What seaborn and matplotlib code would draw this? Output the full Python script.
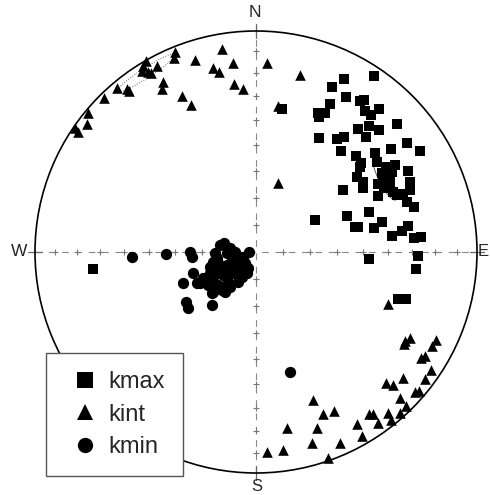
"""
AMS principal axes on an equal-area (lower hemisphere) net
"""

import numpy as np
import pandas as pd
import matplotlib
matplotlib.use('Agg')
import matplotlib.pyplot as plt
from matplotlib.lines import Line2D
from matplotlib.patches import Circle, Ellipse
import seaborn as sns

# projected coordinates on the net (east, north), net radius = 221
R = 221

kmax_e = [118, 88, 76, 90, 104, 108, 74, 62, 69, 63, 109, 123, 115, 26, 141, 102, 113, 123,
          63, 81, 88, 110, 151, 135, 164, 85, 100, 105, 104, 119, 121, 131, 139, 126, 132,
          127, 134, 152, 154, 154, 101, 107, 107, 122, 122, 141, 147, 151, 158, 87, 113,
          91, 59, 126, 99, 102, 118, 136, 146, 152, 158, 165, 113, 162, 160, 142, 150,
          -163, 130, 136, 128, 137]
kmax_n = [176, 173, 165, 155, 151, 152, 148, 139, 139, 135, 141, 143, 137, 143, 128, 123, 126, 122,
          114, 113, 115, 115, 109, 103, 101, 101, 96, 89, 85, 99, 90, 85, 87, 79, 75,
          70, 70, 81, 70, 62, 75, 70, 64, 68, 56, 57, 58, 50, 45, 62, 40,
          36, 32, 30, 25, 25, 24, 16, 21, 26, 14, 15, -7, -4, -17, -47, -47,
          -17, 80, 80, 64, 60]

kint_e = [-181, -178, -169, -168, -152, -139, -129, -127, -114, -113, -110, -108, -105, -99,
          -93, -94, -81, -82, -74, -65, -61, -43, -37, -34, -23, -22, -13, 11, 44, 22, 22,
          132, 149, 154, 148, 180, 176, 169, 165, 175, 169, 147, 130, 137, 159, 163, 144,
          150, 113, 117, 132, 122, 135, 144, 101, 106, 84, 72, 57, 67, 78, 61, 56, 31, 27, 11]
kint_n = [124, 120, 128, 139, 154, 164, 163, 161, 181, 186, 191, 180, 179, 186,
          170, 163, 200, 194, 156, 147, 192, 184, 180, 203, 189, 168, 163, 189, 177, 146, 69,
          -52, -89, -86, -92, -88, -94, -104, -106, -118, -127, -126, -131, -133, -140, -139, -146,
          -154, -162, -162, -161, -171, -168, -161, -172, -184, -191, -206, -148, -162, -159,
          -176, -191, -176, -198, -200]

kmin_e = [-124, -90, -66, -64, -36, -32, -26, -21, -7, -43, -63, -73, -56, -70, -68, -44, -44, 34,
          -41, -29, -13, -46, -38, -29, -19, -11, -8, -53, -43, -33, -23, -14, -9, -59, -48,
          -38, -28, -18, -43, -34, -26, -36, -26, -39, -24, -16, -46, -31]
kmin_n = [-5, -2, 0, -5, 7, 9, 4, 0, 0, -10, -21, -31, -31, -50, -56, -53, -41, -120,
          -1, -1, -5, -15, -11, -13, -10, -11, -16, -26, -25, -23, -21, -25, -21, -31, -33,
          -33, -30, -30, -40, -38, -35, -18, -18, -6, -6, -16, -21, -40]

# 95% confidence ellipses (centre e, centre n, length, width, angle)
ell_kmax = (129, 73, 47, 12, -63)
ell_kint = (-110, 179, 68, 10, 33)

df = pd.concat([
    pd.DataFrame({'e': kmax_e, 'n': kmax_n, 'axis': 'kmax'}),
    pd.DataFrame({'e': kint_e, 'n': kint_n, 'axis': 'kint'}),
    pd.DataFrame({'e': kmin_e, 'n': kmin_n, 'axis': 'kmin'}),
])

sns.set_style('white')
plt.rcParams['font.family'] = ['Liberation Sans', 'DejaVu Sans']

fig = plt.figure(figsize=(4.9, 4.95), dpi=100)
ax = fig.add_axes([0, 0, 1, 1])
ax.set_xlim(-256, 234)
ax.set_ylim(-243, 252)
ax.axis('off')

# primitive circle and axes
ax.add_patch(Circle((0, 0), R, fill=False, ec='black', lw=1.2, zorder=2))
ax.plot([-R, R], [0, 0], color='#888888', lw=0.8, dashes=(6, 6), zorder=1)
ax.plot([0, 0], [-R, R], color='#888888', lw=0.8, dashes=(6, 6), zorder=1)
for a, b in [((-R - 7, -R + 7), (0, 0)), ((R - 7, R + 7), (0, 0)),
             ((0, 0), (R - 7, R + 7)), ((0, 0), (-R - 7, -R + 7))]:
    ax.plot(a, b, color='#666666', lw=0.9, zorder=1)

# ticks every 10 degrees of inclination
inc = np.arange(10, 90, 10)
rt = R * np.sqrt(2) * np.sin(np.radians((90 - inc) / 2))
tx = np.concatenate([rt, -rt, np.zeros_like(rt), np.zeros_like(rt)])
ty = np.concatenate([np.zeros_like(rt), np.zeros_like(rt), rt, -rt])
ax.plot(tx, ty, '+', color='#777777', ms=5, mew=0.8, zorder=1)

ax.text(-1, R + 11, 'N', ha='center', va='bottom', fontsize=12.5)
ax.text(1, -R - 6, 'S', ha='center', va='top', fontsize=12)
ax.text(-R - 8, 0, 'W', ha='right', va='center', fontsize=12.5)
ax.text(R + 1, 0, 'E', ha='left', va='center', fontsize=12)

# confidence ellipses
e, n, w, h, ang = ell_kmax
ax.add_patch(Ellipse((e, n), w, h, angle=ang, fill=False, ec='#444444', lw=0.6, zorder=2))
e, n, w, h, ang = ell_kint
ax.add_patch(Ellipse((e, n), w, h, angle=ang, fill=False, ec='#666666', lw=0.7, ls=':', zorder=2))

sizes = {'kmax': 50, 'kint': 58, 'kmin': 66}
markers = {'kmax': 's', 'kint': '^', 'kmin': 'o'}
for name in ['kmax', 'kint', 'kmin']:
    sub = df[df['axis'] == name]
    sns.scatterplot(data=sub, x='e', y='n', marker=markers[name], s=sizes[name],
                    color='black', linewidth=0, ax=ax, zorder=3, legend=False)
ax.set_xlabel('')
ax.set_ylabel('')

handles = [Line2D([], [], ls='none', marker=markers[k], color='black', ms=11, mew=0)
           for k in ['kmax', 'kint', 'kmin']]
leg = ax.legend(handles, ['kmax', 'kint', 'kmin'], loc='lower left',
                bbox_to_anchor=(46 / 490, 19 / 495), bbox_transform=fig.transFigure,
                fontsize=17, frameon=True, fancybox=False, framealpha=1,
                edgecolor='#555555', borderpad=0.75, labelspacing=0.45,
                handlelength=1.8, handletextpad=0.1, borderaxespad=0)
leg.get_frame().set_linewidth(1.0)
leg.set_zorder(5)

fig.savefig('out.png', dpi=100)
